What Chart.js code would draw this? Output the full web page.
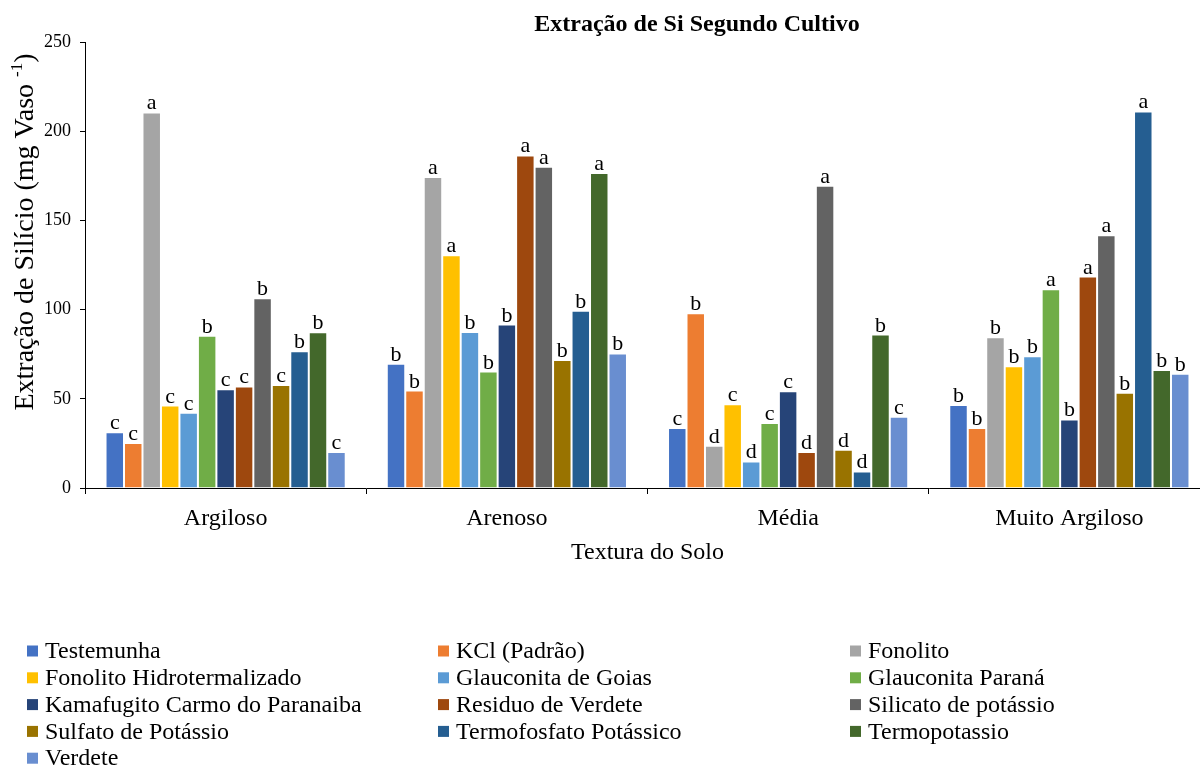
<!DOCTYPE html>
<html>
<head>
<meta charset="utf-8">
<script src="https://cdn.jsdelivr.net/npm/chart.js@4.4.1/dist/chart.umd.min.js"></script>
<style>
  html, body { margin: 0; padding: 0; background: #fff; }
  #wrap { width: 1200px; height: 767px; position: relative; overflow: hidden; }
  #c { position: absolute; left: 0; top: 0; }
</style>
</head>
<body>
<div id="wrap"><canvas id="c" width="1210" height="767"></canvas></div>
<script>
// Soil texture classes (x categories)
const categories = ['Argiloso', 'Arenoso', 'Média', 'Muito Argiloso'];
const yTicks = [0, 50, 100, 150, 200, 250];

// Treatments, in legend order
const seriesNames = [
  'Testemunha', 'KCl (Padrão)', 'Fonolito',
  'Fonolito Hidrotermalizado', 'Glauconita de Goias', 'Glauconita Paraná',
  'Kamafugito Carmo do Paranaiba', 'Residuo de Verdete', 'Silicato de potássio',
  'Sulfato de Potássio', 'Termofosfato Potássico', 'Termopotassio',
  'Verdete'
];
const seriesColors = [
  '#4472C4', '#ED7D31', '#A5A5A5',
  '#FFC000', '#5B9BD5', '#70AD47',
  '#264478', '#9E480E', '#636363',
  '#997300', '#255E91', '#43682B',
  '#698ED0'
];

// Si extraction (mg vaso-1) per soil texture
const testemunha       = [31.3, 69.6, 33.6, 46.5];
const kclPadrao        = [25.2, 54.6, 98.0, 33.6];
const fonolito         = [210.5, 174.3, 23.7, 84.5];
const fonolitoHidro    = [46.2, 130.5, 47.0, 68.3];
const glauconitaGoias  = [42.2, 87.5, 14.9, 73.9];
const glauconitaParana = [85.3, 65.3, 36.4, 111.4];
const kamafugito       = [55.4, 91.6, 54.3, 38.4];
const residuoVerdete   = [56.9, 186.4, 20.2, 118.5];
const silicatoPotassio = [106.4, 180.1, 169.4, 141.7];
const sulfatoPotassio  = [57.7, 71.8, 21.4, 53.4];
const termofosfato     = [76.7, 99.4, 9.3, 211.1];
const termopotassio    = [87.3, 176.5, 86.0, 66.1];
const verdete          = [20.2, 75.4, 39.9, 64.0];

// Mean-comparison letters per treatment
const lettersTestemunha       = ['c', 'b', 'c', 'b'];
const lettersKcl              = ['c', 'b', 'b', 'b'];
const lettersFonolito         = ['a', 'a', 'd', 'b'];
const lettersFonolitoHidro    = ['c', 'a', 'c', 'b'];
const lettersGlauconitaGoias  = ['c', 'b', 'd', 'b'];
const lettersGlauconitaParana = ['b', 'b', 'c', 'a'];
const lettersKamafugito       = ['c', 'b', 'c', 'b'];
const lettersResiduoVerdete   = ['c', 'a', 'd', 'a'];
const lettersSilicato         = ['b', 'a', 'a', 'a'];
const lettersSulfato          = ['c', 'b', 'd', 'b'];
const lettersTermofosfato     = ['b', 'b', 'd', 'a'];
const lettersTermopotassio    = ['b', 'a', 'b', 'b'];
const lettersVerdete          = ['c', 'b', 'c', 'b'];

const seriesValues = [
  testemunha, kclPadrao, fonolito, fonolitoHidro, glauconitaGoias, glauconitaParana,
  kamafugito, residuoVerdete, silicatoPotassio, sulfatoPotassio, termofosfato,
  termopotassio, verdete
];
const seriesLetters = [
  lettersTestemunha, lettersKcl, lettersFonolito, lettersFonolitoHidro,
  lettersGlauconitaGoias, lettersGlauconitaParana, lettersKamafugito,
  lettersResiduoVerdete, lettersSilicato, lettersSulfato, lettersTermofosfato,
  lettersTermopotassio, lettersVerdete
];

const SERIF = '"Liberation Serif", "Times New Roman", serif';

const datasets = seriesNames.map((name, i) => ({
  label: name,
  data: seriesValues[i],
  backgroundColor: seriesColors[i],
  borderColor: 'rgba(255,255,255,0.35)',
  borderWidth: 1,
  letters: seriesLetters[i],
  categoryPercentage: 0.854,
  barPercentage: 1.0
}));

// Letters above each bar
const letterPlugin = {
  id: 'letters',
  afterDatasetsDraw(chart) {
    const ctx = chart.ctx;
    ctx.save();
    ctx.font = '22px ' + SERIF;
    ctx.fillStyle = '#000';
    ctx.textAlign = 'center';
    ctx.textBaseline = 'alphabetic';
    chart.data.datasets.forEach((ds, di) => {
      const meta = chart.getDatasetMeta(di);
      meta.data.forEach((bar, j) => {
        ctx.fillText(ds.letters[j], bar.x, bar.y - 3);
      });
    });
    ctx.restore();
  }
};

// Chart title, rotated y-axis title with superscript, and the three-column legend
const decorPlugin = {
  id: 'decor',
  afterDraw(chart) {
    const ctx = chart.ctx;
    ctx.save();
    ctx.fillStyle = '#000';

    // title
    ctx.font = 'bold 24px ' + SERIF;
    ctx.textAlign = 'center';
    ctx.textBaseline = 'middle';
    ctx.fillText('Extração de Si Segundo Cultivo', 697, 25);

    // y-axis title
    ctx.save();
    ctx.translate(24, 232);
    ctx.rotate(-Math.PI / 2);
    const mainTxt = 'Extração de Silício (mg Vaso ';
    const supTxt = '-1';
    const endTxt = ')';
    const mainFont = '28px ' + SERIF;
    const supFont = '17px ' + SERIF;
    ctx.font = mainFont;
    const wMain = ctx.measureText(mainTxt).width;
    const wEnd = ctx.measureText(endTxt).width;
    ctx.font = supFont;
    const wSup = ctx.measureText(supTxt).width;
    let x = -(wMain + wSup + wEnd) / 2;
    ctx.textAlign = 'left';
    ctx.textBaseline = 'alphabetic';
    ctx.font = mainFont;
    ctx.fillText(mainTxt, x, 9);
    x += wMain;
    ctx.font = supFont;
    ctx.fillText(supTxt, x, -2);
    x += wSup;
    ctx.font = mainFont;
    ctx.fillText(endTxt, x, 9);
    ctx.restore();

    // legend
    const colX = [27, 438, 850];
    const rowY0 = 651, rowStep = 26.8;
    ctx.font = '24px ' + SERIF;
    ctx.textAlign = 'left';
    ctx.textBaseline = 'middle';
    chart.data.datasets.forEach((ds, i) => {
      const col = i % 3, row = Math.floor(i / 3);
      const sx = colX[col], sy = rowY0 + row * rowStep;
      ctx.fillStyle = ds.backgroundColor;
      ctx.fillRect(sx, sy - 5.5, 11, 11);
      ctx.fillStyle = '#000';
      ctx.fillText(ds.label, sx + 18, sy + 1);
    });
    ctx.restore();
  }
};

new Chart(document.getElementById('c'), {
  type: 'bar',
  data: { labels: categories, datasets },
  options: {
    responsive: false,
    devicePixelRatio: 1,
    animation: false,
    layout: { padding: { left: 0, right: 0, top: 42, bottom: 0 } },
    plugins: { legend: { display: false }, tooltip: { enabled: false }, title: { display: false } },
    scales: {
      x: {
        offset: true,
        grid: { display: true, drawOnChartArea: false, drawTicks: true, tickLength: 6, color: '#000', offset: true },
        border: { display: true, color: '#000', width: 1 },
        ticks: { color: '#000', font: { family: SERIF, size: 24 }, padding: 10, maxRotation: 0, autoSkip: false },
        title: {
          display: true, text: 'Textura do Solo', color: '#000',
          font: { family: SERIF, size: 24 }, padding: { top: 0, bottom: 200 }
        },
        afterFit(scale) { scale.height = 279; }
      },
      y: {
        min: 0, max: 250,
        afterBuildTicks(scale) { scale.ticks = yTicks.map(v => ({ value: v })); },
        grid: { display: true, drawOnChartArea: false, drawTicks: true, tickLength: 5, color: '#000' },
        border: { display: true, color: '#000', width: 1 },
        ticks: { color: '#000', font: { family: SERIF, size: 18 }, padding: 9 },
        afterFit(scale) { scale.width = 85; }
      }
    }
  },
  plugins: [letterPlugin, decorPlugin]
});
</script>
</body>
</html>
